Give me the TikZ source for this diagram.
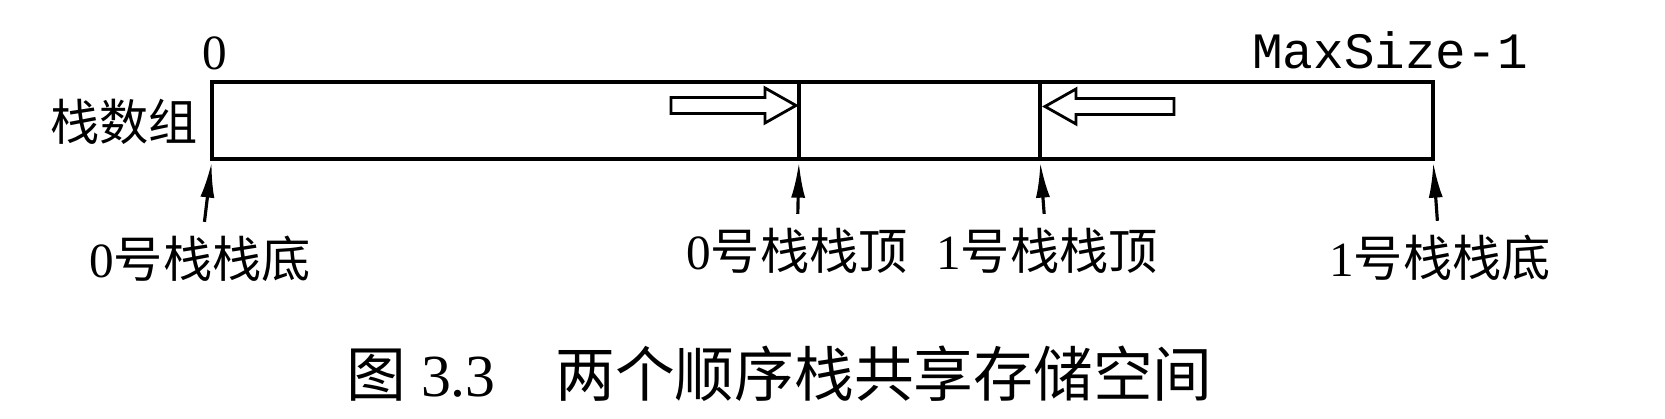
\documentclass[tikz,border=0pt]{standalone}
\usepackage{fontspec}
\setmainfont{Liberation Serif}
\setmonofont{Liberation Mono}
\newfontfamily\cjk{Noto Sans CJK SC}
\usetikzlibrary{positioning, calc, arrows.meta}
\tikzstyle{Pointer} = [
%Upward pointer under the array:
line width = 1.8pt,
-{Latex[length=20pt, width=8pt]},
shorten >= 2pt, shorten <= 6pt
]

\begin{document}
\begin{tikzpicture}[
				cell/.style = {draw, line width = 2.2pt},
				divider/.style = {draw, line width = 1.8pt},
				push/.style = {draw, line width = 1.6pt, fill = white, line join = miter},
				tag/.style = {inner sep = 2pt, font = \fontsize{28}{30}\selectfont},
				index/.style = {inner sep = 1pt},
			]
			\useasboundingbox (0,0) rectangle (33.3,8.38);

			\coordinate (BL) at (4.24,5.20);
			\coordinate (TR) at (28.66,6.74);
			\coordinate (BR) at (28.66,5.20);
			\coordinate (T0) at (15.98,5.20);
			\coordinate (T1) at (20.80,5.20);

			\draw[divider] (T0) -- (T0 |- TR);
			\draw[divider] (T1) -- (T1 |- TR);
			\draw[cell] (BL) rectangle (TR);

			% hollow arrows: the two stacks grow towards each other
			\draw[push] (13.42,6.11) -- ++(1.88,0) -- ++(0,-0.19) -- ++(0.62,0.35) -- ++(-0.62,0.35) -- ++(0,-0.19) -- ++(-1.88,0) -- cycle;
			\draw[push] (23.48,6.09) -- ++(-1.96,0) -- ++(0,-0.19) -- ++(-0.62,0.35) -- ++(0.62,0.35) -- ++(0,-0.19) -- ++(1.96,0) -- cycle;

			\node[tag] (A) at (2.48,5.94) {\cjk 栈数组};
			\node[index] (Z) at (4.30,7.32) {\fontsize{28}{30}\selectfont 0};
			\node[index] (M) at (27.80,7.38) {\fontsize{29}{31}\selectfont\ttfamily MaxSize-1};

			\node[tag] (B0) at (4.00,3.20) {0{\cjk 号栈栈底}};
			\node[tag] (P0) at (15.94,3.36) {0{\cjk 号栈栈顶}};
			\node[tag] (P1) at (20.94,3.36) {1{\cjk 号栈栈顶}};
			\node[tag] (B1) at (28.80,3.22) {1{\cjk 号栈栈底}};

			\draw[Pointer](B0)--(BL);
			\draw[Pointer](P0)--(T0);
			\draw[Pointer](P1)--(T1);
			\draw[Pointer](B1)--(BR);

			\node[anchor = west, inner sep = 0pt, font = \fontsize{34}{38}\selectfont] (C) at (6.92,0.90) {{\cjk 图}~3.3\hspace{1em}{\cjk 两个顺序栈共享存储空间}};

		\end{tikzpicture}
\end{document}
